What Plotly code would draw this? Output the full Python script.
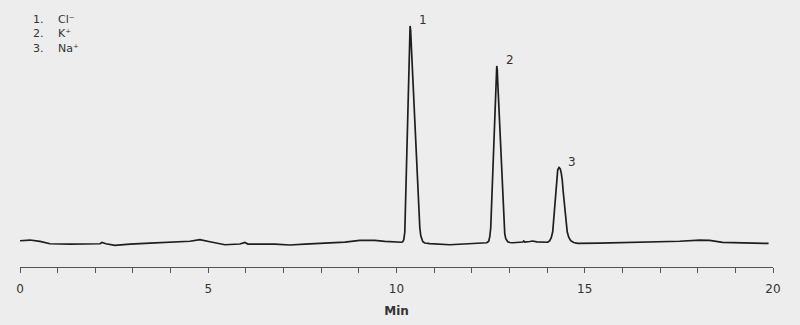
import plotly.graph_objects as go

# Retention time (min) and detector signal (arbitrary units)
time_min = [
    0.000, 0.265, 0.531, 0.796, 1.327, 2.124, 2.177, 2.283, 2.522, 2.920,
    3.451, 4.115, 4.513, 4.778, 4.911, 5.044, 5.442, 5.840, 5.973, 6.053,
    6.769, 7.167, 7.566, 7.964, 8.628, 9.026, 9.424, 9.690, 10.061,
    # peak 1
    10.141, 10.167, 10.194, 10.221, 10.247, 10.274, 10.300, 10.327, 10.348, 10.361,
    10.375, 10.406, 10.433, 10.460, 10.486, 10.513, 10.539, 10.566, 10.592, 10.619,
    10.645, 10.672, 10.699, 10.752, 10.884,
    11.415, 11.866, 12.158,
    # peak 2
    12.344, 12.397, 12.450, 12.477, 12.503, 12.530, 12.557, 12.583, 12.610, 12.636,
    12.652, 12.663, 12.676, 12.689, 12.716, 12.742, 12.769, 12.795, 12.822, 12.849,
    12.875, 12.902, 12.955, 13.008, 13.088,
    13.273, 13.353, 13.380, 13.406, 13.539, 13.618, 13.725, 13.937,
    # peak 3
    14.017, 14.070, 14.110, 14.149, 14.176, 14.202, 14.229, 14.256, 14.282, 14.317,
    14.349, 14.375, 14.402, 14.428, 14.455, 14.481, 14.508, 14.534, 14.574, 14.627,
    14.707, 14.813,
    15.397, 16.724, 17.521, 18.052, 18.317, 18.662, 19.379, 19.883,
]
signal = [
    0.20, 0.27, 0.13, -0.10, -0.13, -0.10, 0.03, -0.10, -0.27, -0.13,
    -0.03, 0.05, 0.15, 0.30, 0.23, 0.10, -0.20, -0.13, 0.03, -0.13,
    -0.13, -0.23, -0.13, -0.07, 0.07, 0.23, 0.23, 0.13, 0.03,
    0.05, 0.10, 0.30, 1.10, 4.60, 8.50, 12.40, 16.30, 19.80, 21.70,
    21.30, 18.70, 16.40, 14.20, 11.90, 9.70, 7.40, 5.20, 3.10, 1.50,
    0.70, 0.30, 0.10, -0.03, -0.08,
    -0.20, -0.13, -0.05,
    -0.03, 0.00, 0.15, 0.60, 1.50, 4.20, 6.90, 9.60, 12.40, 15.10,
    16.80, 17.70, 17.30, 16.10, 13.80, 11.50, 9.10, 6.80, 4.50, 2.10,
    0.90, 0.40, 0.10, 0.02, 0.00,
    0.05, 0.07, 0.18, 0.07, 0.12, 0.17, 0.08, 0.04,
    0.05, 0.20, 0.50, 1.10, 2.30, 3.80, 5.30, 6.60, 7.30, 7.53,
    7.40, 7.00, 6.30, 5.10, 3.90, 2.70, 1.70, 1.10, 0.55, 0.20,
    0.02, -0.07,
    -0.03, 0.07, 0.15, 0.27, 0.23, 0.03, -0.07, -0.07,
]

peak_labels = ["1", "2", "3"]
peak_times = [10.361, 12.663, 14.317]
peak_heights = [21.70, 17.70, 7.53]

legend_numbers = ["1.", "2.", "3."]
legend_ions = ["Cl⁻", "K⁺", "Na⁺"]

tick_values = list(range(0, 21))
tick_text = [str(v) if v % 5 == 0 else "" for v in tick_values]

FONT = "DejaVu Sans, Verdana, sans-serif"
BG = "#ededed"
TXT = "#333333"

fig = go.Figure()
fig.add_trace(go.Scatter(
    x=time_min, y=signal, mode="lines",
    line=dict(color="#1e1e1e", width=1.7),
    hoverinfo="skip", showlegend=False,
))

annotations = []
for lab, t, h in zip(peak_labels, peak_times, peak_heights):
    annotations.append(dict(
        x=t, y=h, xref="x", yref="y", text=lab, showarrow=False,
        xshift=13, yshift=6, font=dict(family=FONT, size=12, color=TXT),
    ))

# legend block: one multi-line text per column
annotations.append(dict(
    x=0.0146, y=0.872, xref="paper", yref="paper", text="<br>".join(legend_numbers),
    showarrow=False, align="left", xanchor="left", yanchor="middle",
    font=dict(family=FONT, size=11, color=TXT),
))
annotations.append(dict(
    x=0.0478, y=0.872, xref="paper", yref="paper", text="<br>".join(legend_ions),
    showarrow=False, align="left", xanchor="left", yanchor="middle",
    font=dict(family=FONT, size=11, color=TXT),
))

fig.update_layout(
    width=800, height=325,
    margin=dict(l=20, r=27, t=0, b=58),
    paper_bgcolor=BG, plot_bgcolor=BG,
    annotations=annotations,
    xaxis=dict(
        range=[0, 20], tickmode="array", tickvals=tick_values, ticktext=tick_text,
        ticks="outside", ticklen=5, tickwidth=1.2, tickcolor="#555555",
        showline=True, linecolor="#555555", linewidth=1.3,
        showgrid=False, zeroline=False,
        ticklabelstandoff=5,
        tickfont=dict(family=FONT, size=12, color=TXT),
        title=dict(text="<b>Min</b>", font=dict(family=FONT, size=12, color=TXT), standoff=12),
        fixedrange=True,
    ),
    yaxis=dict(range=[-2.43, 24.3], visible=False, fixedrange=True),
)

fig.write_html("out.html")
